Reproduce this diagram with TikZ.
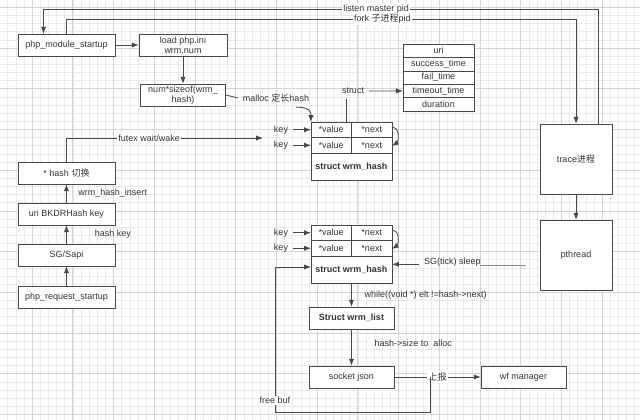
\documentclass[tikz,border=0pt]{standalone}
\usepackage{fontspec}
\setmainfont{Liberation Sans}
\newfontfamily\cjk{Noto Sans CJK SC}
\newcommand{\zh}[1]{{\cjk #1}}
\usetikzlibrary{positioning, arrows.meta, calc}
\definecolor{ink}{RGB}{72,72,72}
\definecolor{gridmin}{RGB}{234,234,234}
\definecolor{gridmaj}{RGB}{212,212,212}

\begin{document}
\begin{tikzpicture}[x=0.025cm, y=-0.025cm, font=\fontsize{6.4}{7.2}\selectfont, text=black!80,
  box/.style={draw=ink, fill=white, align=center, inner sep=1pt, minimum width=2.125cm, minimum height=0.55cm},
  wide/.style={box, minimum width=2.425cm},
  cell/.style={draw=ink, fill=white, inner sep=0pt, outer sep=0pt, minimum width=1.0125cm, minimum height=0.3875cm},
  srow/.style={draw=ink, fill=white, inner sep=0pt, outer sep=0pt, minimum width=2.025cm, minimum height=0.675cm, font=\fontsize{6.4}{7.2}\selectfont\bfseries},
  field/.style={draw=ink, fill=white, inner sep=0pt, outer sep=0pt, minimum width=1.775cm, minimum height=0.335cm},
  proc/.style={draw=ink, fill=white, minimum width=1.8cm, minimum height=1.75cm},
  lbl/.style={fill=white, inner sep=1pt},
  ln/.style={draw=ink, line width=0.6pt},
  ar/.style={ln, -{Latex[length=1.7mm, width=1.3mm]}}]

\useasboundingbox (0,0) rectangle (640,420);
\fill[white] (0,0) rectangle (640,420);

% background grid
\begin{scope}
\clip (0,0) rectangle (640,420);
\begin{scope}[shift={(32.2,7.4)}]
\draw[gridmin, line width=0.5pt, step=0.2035cm] (-41,-41) grid (620,420);
\draw[gridmaj, line width=0.6pt, step=1.0175cm] (-41,-41) grid (620,420);
\end{scope}
\end{scope}

\coordinate (top1) at (0,9);
\coordinate (top2) at (0,19);

% startup chain
\node[wide] at (66.5,45) (pms) {php\_module\_startup};
\node[box, minimum width=2.2cm] at (183,45) (ld) {load php.ini\\wrm.num};
\node[box] at (183,95) (num) {num*sizeof(wrm\_\\hash)};
\node at (276,98) (ml) {malloc \zh{定长}hash};

% request chain
\node[wide] at (66.5,173) (hs) {* hash \zh{切换}};
\node[wide] at (66.5,214) (uk) {uri BKDRHash key};
\node[wide] at (66.5,255) (sg) {SG/Sapi};
\node[wide] at (66.5,297) (prs) {php\_request\_startup};

% processes
\node[proc] at (576,159) (tr) {trace\zh{进程}};
\node[proc] at (576,255) (pt) {pthread};

% struct fields
\node[field] at (438.5,50.7) (f1) {uri};
\node[field] at (438.5,64.1) (f2) {success\_time};
\node[field] at (438.5,77.5) (f3) {fail\_time};
\node[field] at (438.5,90.9) (f4) {timeout\_time};
\node[field] at (438.5,104.3) (f5) {duration};
\node at (353,91) (st) {struct};

% hash table, upper
\node[cell] at (331.25,129.75) (v1) {*value};
\node[cell] at (371.75,129.75) (n1) {*next};
\node[cell] at (331.25,145.25) (v2) {*value};
\node[cell] at (371.75,145.25) (n2) {*next};
\node[srow] at (351.5,166.5) (s1) {struct wrm\_hash};
\node at (281,129.75) (k1) {key};
\node at (281,145.25) (k2) {key};

% hash table, lower
\node[cell] at (331.25,232.75) (v3) {*value};
\node[cell] at (371.75,232.75) (n3) {*next};
\node[cell] at (331.25,248.25) (v4) {*value};
\node[cell] at (371.75,248.25) (n4) {*next};
\node[srow] at (351.5,269.5) (s2) {struct wrm\_hash};
\node at (281,232.75) (k3) {key};
\node at (281,248.25) (k4) {key};

\node at (475,262) (slp) {SG(tick) sleep\_\_\_\_\_\_\_\_\_};

% output chain
\node[box] at (351.5,318) (wl) {\bfseries Struct wrm\_list};
\node[box] at (351.5,377) (sj) {socket json};
\node[box] at (523.5,377) (wf) {wf manager};

% pids between module startup and trace
\draw[ar] ([xshift=.55cm]tr.north) |- node[lbl, pos=0.7]{listen master pid} ([xshift=-.575cm]pms.north |- top1) -- ([xshift=-.575cm]pms.north);
\draw[ar] (pms.north) |- node[lbl, pos=0.81]{fork \zh{子进程}pid} (tr.north |- top2) -- (tr.north);
\draw[ar] (tr) -- (pt);

\draw[ar] (pms) -- (ld);
\draw[ar] (ld) -- (num);
\draw[ln] (num.east) -- (ml.west);
\draw[ar] ([xshift=-.45cm]ml.south east) .. controls +(14,0) and +(0,-10) .. (v1.north west);

\draw[ar] (st.east) -- (f4.west);
\draw[ln] ([xshift=-.175cm]st.south) -- ([xshift=-.175cm]st.south |- v1.north);

\draw[ar] (k1) -- (v1);
\draw[ar] (k2) -- (v2);
\draw[ar] ([yshift=.06cm]n1.east) .. controls +(9,0) and +(6,-4) .. ([yshift=-.02cm]n2.east);
\draw[ar] (k3) -- (v3);
\draw[ar] (k4) -- (v4);
\draw[ar] ([yshift=.06cm]n3.east) .. controls +(9,0) and +(6,-4) .. ([yshift=-.02cm]n4.east);

% request side
\draw[ar] (prs) -- (sg);
\draw[ar] (sg) -- node[right=0.58cm]{hash key} (uk);
\draw[ar] (uk) -- node[right=0.17cm]{wrm\_hash\_insert} (hs);
\coordinate (fw) at (263,138);
\draw[ar] (hs.north) |- node[lbl, pos=0.71]{futex wait/wake} (fw);

\draw[ar] (slp.base west) -- (slp.base west -| s2.east);

\draw[ar] (s2) -- node[right=0.2cm]{while((void *) elt !=hash->next)} (wl);
\draw[ar] (wl) -- node[right=0.45cm, pos=0.38]{hash->size to\ \ alloc} (sj);
\draw[ar] (sj) -- node[lbl]{\zh{上报}} (wf);

% free buf loops back to the table
\coordinate (fb) at (275,267);
\draw[ar] ([xshift=.9cm]sj.east) -- ++(0,35) -| node[lbl, pos=0.54]{free buf} (fb) -- (fb -| s2.west);
\end{tikzpicture}
\end{document}
